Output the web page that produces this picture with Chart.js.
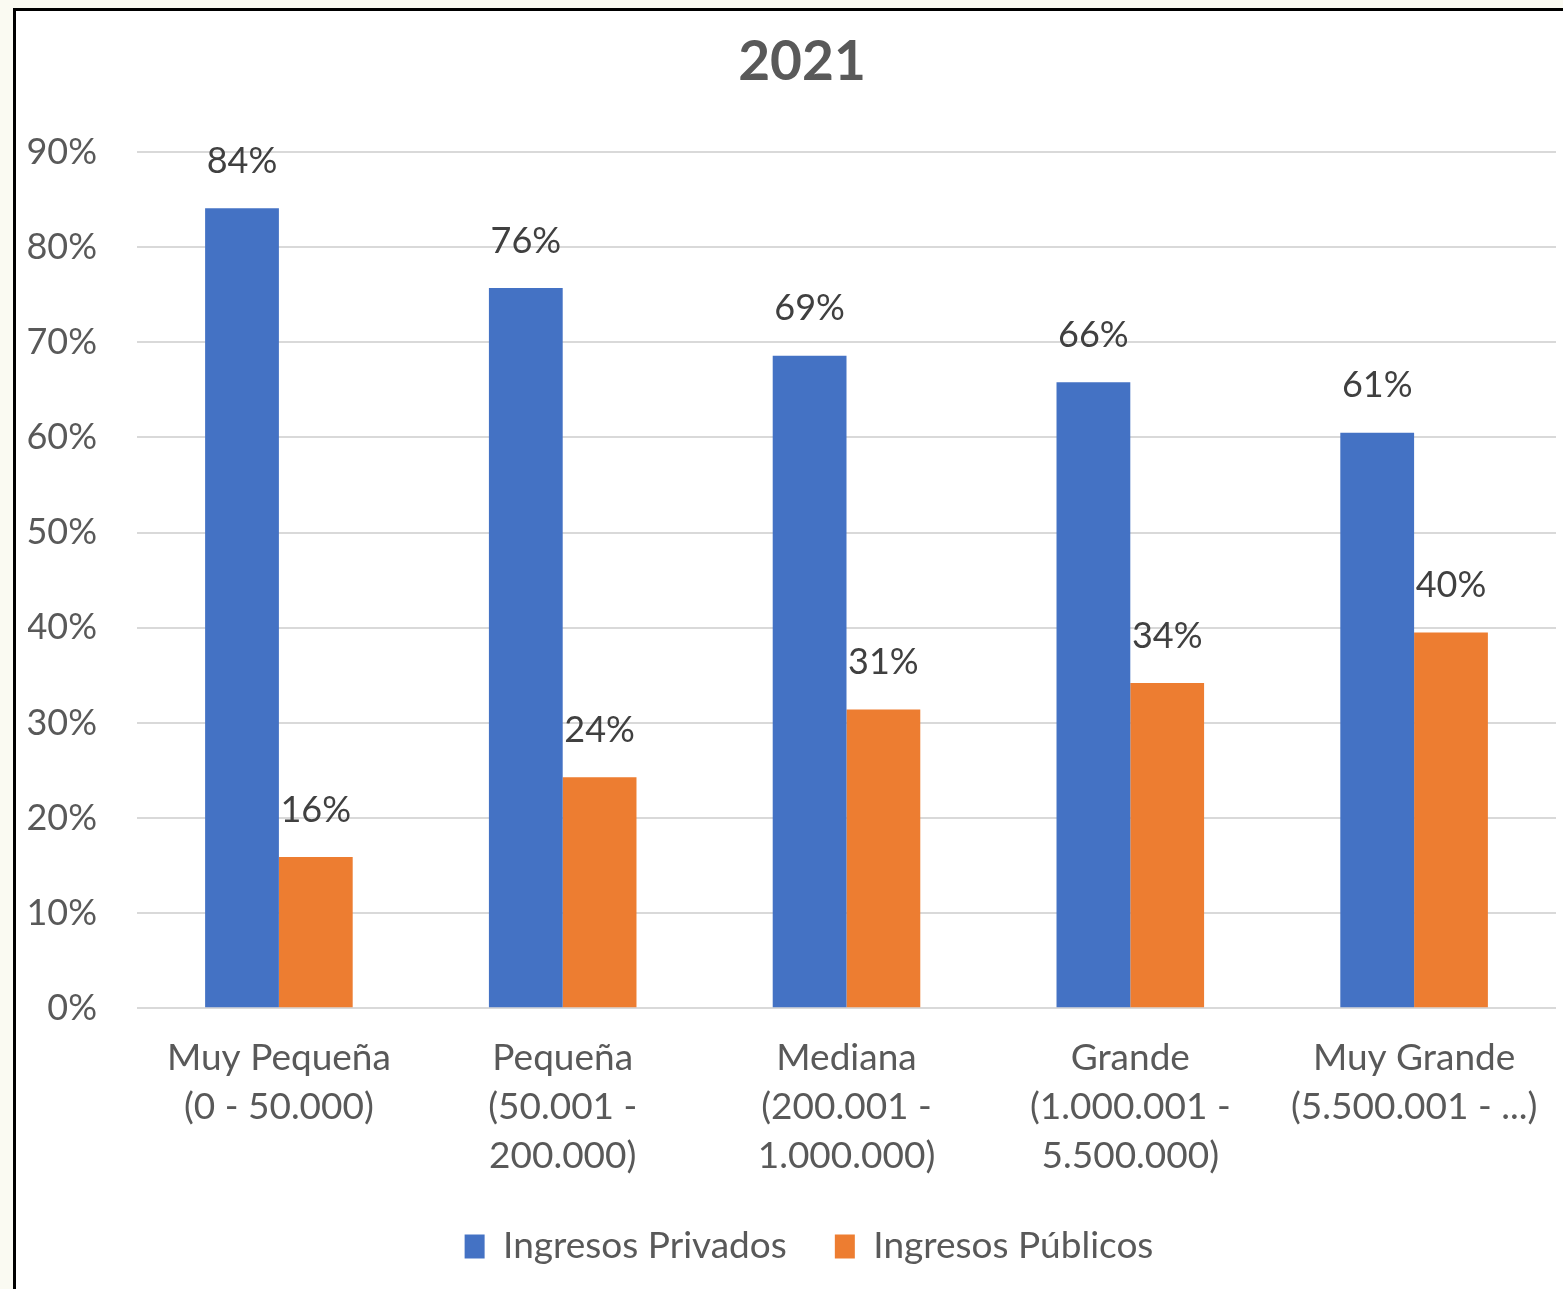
<!DOCTYPE html>
<html>
<head>
<meta charset="utf-8">
<script src="https://cdn.jsdelivr.net/npm/chart.js@4.4.1/dist/chart.umd.min.js"></script>
<style>
  html, body { margin: 0; padding: 0; background: #fafaf2; overflow: hidden; }
  #frame { position: absolute; left: 13px; top: 8px; width: 1600px; height: 1300px;
           border-left: 3px solid #000; border-top: 3px solid #000; background: #fff; }
  #wrap { position: absolute; left: 0; top: 0; width: 1581px; height: 1278px; }
</style>
</head>
<body>
<div id="frame"><div id="wrap"><canvas id="c"></canvas></div></div>
<script>
const title = "2021";
const categories = [
  ["Muy Pequeña", "(0 - 50.000)"],
  ["Pequeña", "(50.001 -", "200.000)"],
  ["Mediana", "(200.001 -", "1.000.000)"],
  ["Grande", "(1.000.001 -", "5.500.000)"],
  ["Muy Grande", "(5.500.001 - ...)"]
];
const seriesNames = ["Ingresos Privados", "Ingresos Públicos"];
const privados = [84.1, 75.7, 68.6, 65.8, 60.5];
const publicos = [15.9, 24.3, 31.4, 34.2, 39.5];
const yTicks = [0, 10, 20, 30, 40, 50, 60, 70, 80, 90];

const FONT = "Lato, 'Open Sans', sans-serif";
const TEXT = "#595959";
const LEGEND_FIT_PAD = 22;   // vertical room reserved for the legend
const LEGEND_DRAW_PAD = 48;  // horizontal gap between legend items

const barLabels = {
  id: "barLabels",
  afterDatasetsDraw(chart) {
    const ctx = chart.ctx;
    ctx.save();
    ctx.font = "36px " + FONT;
    ctx.fillStyle = "#404040";
    ctx.textAlign = "center";
    ctx.textBaseline = "middle";
    chart.data.datasets.forEach((ds, i) => {
      const meta = chart.getDatasetMeta(i);
      meta.data.forEach((bar, j) => {
        ctx.fillText(Math.round(ds.data[j]) + "%", bar.x, bar.y - 47);
      });
    });
    ctx.restore();
  }
};

// The original chart is centred a little right of the plot frame; also widen legend item spacing
const shiftBoxes = {
  id: "shiftBoxes",
  afterLayout(chart) {
    const d = LEGEND_DRAW_PAD - LEGEND_FIT_PAD;
    if (chart.titleBlock) { chart.titleBlock.left += 10; chart.titleBlock.right += 10; }
    if (chart.legend) {
      chart.legend.left -= 9; chart.legend.right -= 9;
      chart.legend.top -= d;
    }
  },
  beforeDraw(chart) {
    if (chart.legend) chart.legend.options.labels.padding = LEGEND_DRAW_PAD;
  },
  afterDraw(chart) {
    if (chart.legend) chart.legend.options.labels.padding = LEGEND_FIT_PAD;
  }
};

new Chart(document.getElementById("c"), {
  type: "bar",
  data: {
    labels: categories,
    datasets: [
      { label: seriesNames[0], data: privados, backgroundColor: "#4472C4" },
      { label: seriesNames[1], data: publicos, backgroundColor: "#ED7D31" }
    ]
  },
  options: {
    responsive: true,
    maintainAspectRatio: false,
    animation: false,
    layout: { padding: { left: 12, right: 41, top: 0, bottom: 14 } },
    datasets: { bar: { categoryPercentage: 0.52, barPercentage: 1.0 } },
    plugins: {
      title: { display: true, text: title, color: TEXT,
               font: { family: FONT, size: 55, weight: "bold" },
               padding: { top: 18, bottom: 57 } },
      legend: { position: "bottom",
                labels: { color: TEXT, font: { family: FONT, size: 37 },
                          boxWidth: 20, boxHeight: 24, padding: LEGEND_FIT_PAD } },
      tooltip: { enabled: false }
    },
    scales: {
      x: {
        grid: { display: false, drawTicks: false },
        border: { display: false },
        ticks: { color: TEXT, font: { family: FONT, size: 37, lineHeight: 1.33 },
                 padding: 25, maxRotation: 0, autoSkip: false }
      },
      y: {
        min: 0, max: 90,
        afterBuildTicks(axis) { axis.ticks = yTicks.map(v => ({ value: v })); },
        afterFit(axis) { axis.width = 109; },
        grid: { color: "#d9d9d9", lineWidth: 2, drawTicks: false },
        border: { display: false },
        ticks: { color: TEXT, font: { family: FONT, size: 36 }, padding: 40,
                 callback: v => v + "%" }
      }
    }
  },
  plugins: [barLabels, shiftBoxes]
});
</script>
</body>
</html>
